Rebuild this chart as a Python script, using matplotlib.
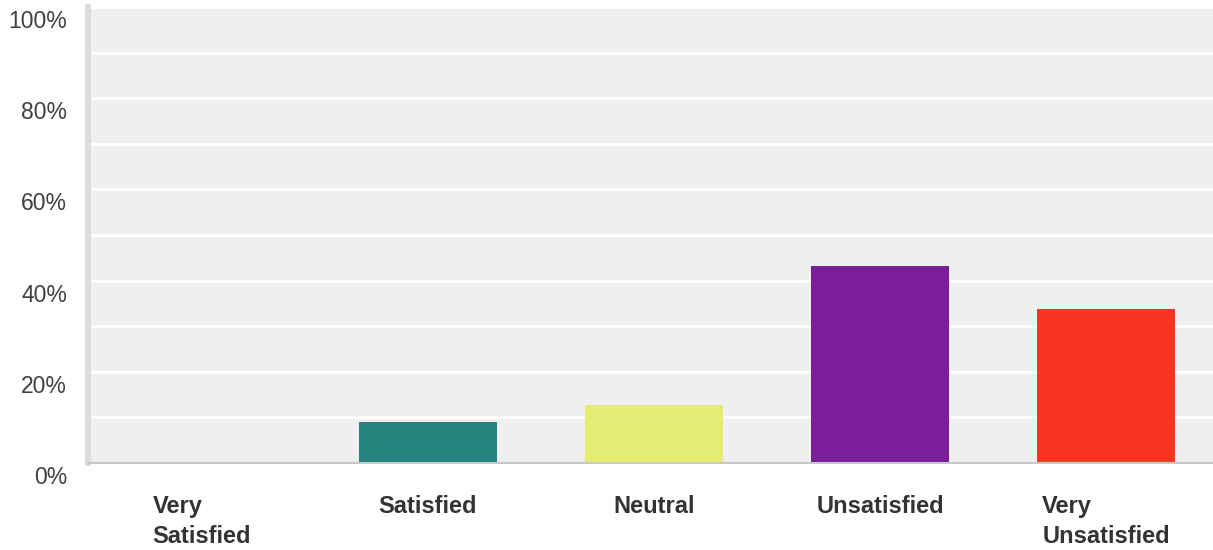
import matplotlib.pyplot as plt
from matplotlib.transforms import ScaledTranslation

plt.rcParams['font.family'] = ['Liberation Sans', 'DejaVu Sans']

categories = ['Very\nSatisfied', 'Satisfied', 'Neutral', 'Unsatisfied', 'Very\nUnsatisfied']
percent = [0.0, 9.1, 12.7, 43.3, 33.7]
colors = ['#25837F', '#25837F', '#E5EC73', '#7A1F99', '#F93522']
y_ticks = [0, 20, 40, 60, 80, 100]
y_labels = ['0%', '20%', '40%', '60%', '80%', '100%']

W, H = 1213, 550
fig = plt.figure(figsize=(W / 100, H / 100), dpi=100)
ax = fig.add_axes([88 / W, (H - 463) / H, (W - 88) / W, (463 - 7) / H])
ax.set_facecolor('#EFEFEF')

x = list(range(len(categories)))
ax.bar(x, percent, width=0.61, color=colors, zorder=3)

ax.set_ylim(0, 100)
ax.set_xlim((88 - 202) / 226, (W - 202) / 226)

# white gridlines every 10%
ax.set_yticks(list(range(0, 101, 10)), minor=True)
ax.grid(axis='y', which='both', color='white', linewidth=2, zorder=1)
ax.set_axisbelow(True)

for s in ['top', 'right']:
    ax.spines[s].set_visible(False)
ax.spines['left'].set_color('#DCDCDC')
ax.spines['left'].set_linewidth(4.3)
ax.spines['bottom'].set_color('#C8C8C8')
ax.spines['bottom'].set_linewidth(1.5)
ax.spines['bottom'].set_zorder(4)

ax.set_yticks(y_ticks)
ax.set_yticklabels(y_labels, fontsize=16.5, color='#404040')
ax.tick_params(axis='y', which='both', length=0, pad=15)
for lab in ax.get_yticklabels():
    lab.set_transform(lab.get_transform() + ScaledTranslation(0, -0.12, fig.dpi_scale_trans))

ax.set_xticks(x)
ax.set_xticklabels(categories, fontsize=17, fontweight='bold', color='#333333')
ax.tick_params(axis='x', length=0, pad=23)
for lab in ax.get_xticklabels():
    lab.set_multialignment('left')
    lab.set_linespacing(1.4)

fig.savefig('out.png', dpi=100)
